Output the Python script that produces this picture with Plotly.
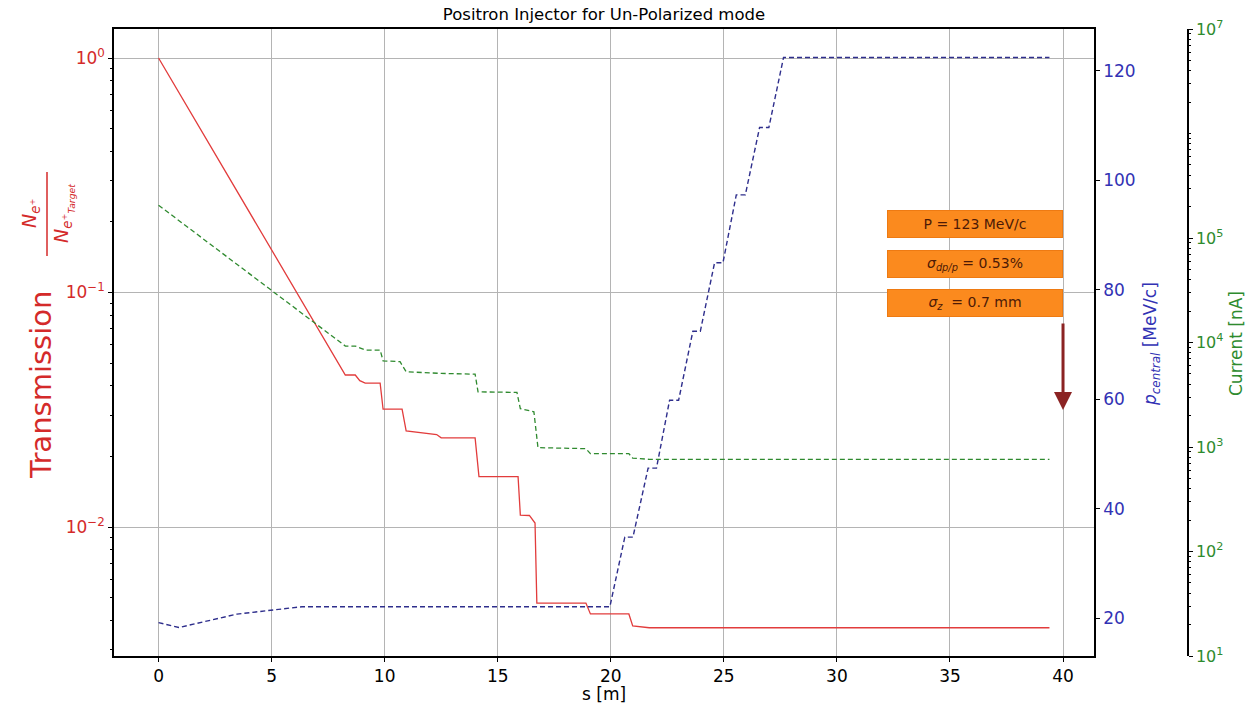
import plotly.graph_objects as go

# ---------------- data ----------------
s_trans = [0, 8.26, 8.7, 8.9, 9.14, 9.8, 9.93, 10.77, 10.95, 11.7, 12.3, 12.5, 14.0, 14.17,
           15.9, 16.0, 16.4, 16.65, 16.73, 18.9, 19.1, 20.8, 20.97, 21.7, 39.4]
transmission = [1.0, 0.0445, 0.0445, 0.0421, 0.0411, 0.0411, 0.0318, 0.0318, 0.0257, 0.0252,
                0.0248, 0.0240, 0.0240, 0.0164, 0.0164, 0.01125, 0.0112, 0.0104, 0.00474,
                0.00474, 0.00426, 0.00426, 0.00379, 0.00372, 0.00372]

s_curr = [0, 8.26, 8.7, 9.14, 9.8, 9.93, 10.68, 10.95, 12.5, 14.0, 14.13, 15.85, 16.0, 16.6,
          16.78, 18.9, 19.1, 20.8, 20.97, 21.7, 39.4]
current_nA = [2.06e5, 9.25e3, 9.25e3, 8.47e3, 8.47e3, 6.68e3, 6.55e3, 5.25e3, 5.06e3, 4.98e3,
              3.37e3, 3.33e3, 2.33e3, 2.17e3, 986, 964, 863, 863, 783, 762, 762]

s_p = [0, 0.9, 3.47, 5.1, 6.34, 19.96, 20.62, 20.98, 21.65, 22.02, 22.6, 23.0, 23.63, 23.96,
       24.59, 24.96, 25.55, 25.95, 26.58, 26.99, 27.64, 39.4]
p_central = [19.2, 18.3, 20.75, 21.5, 22.1, 22.1, 34.8, 34.8, 47.4, 47.4, 59.8, 59.8, 72.4, 72.4,
             84.9, 84.9, 97.3, 97.3, 109.6, 109.6, 122.4, 122.4]

x_ticks = [0, 5, 10, 15, 20, 25, 30, 35, 40]
t_ticks = [0.01, 0.1, 1]
t_ticktext = ["10<sup>−2</sup>", "10<sup>−1</sup>", "10<sup>0</sup>"]
p_ticks = [20, 40, 60, 80, 100, 120]
c_ticks = [10, 100, 1e3, 1e4, 1e5, 1e7]
c_ticktext = ["10<sup>1</sup>", "10<sup>2</sup>", "10<sup>3</sup>", "10<sup>4</sup>",
              "10<sup>5</sup>", "10<sup>7</sup>"]

title_text = "Positron Injector for Un-Polarized mode"
box_texts = ["P = 123 MeV/c",
             "<i>σ</i><sub><i>dp/p</i></sub> = 0.53%",
             "<i>σ<sub>z</sub></i>  = 0.7 mm"]

# ---------------- styling ----------------
FONT = "DejaVu Sans"
RED = "#d42a2a"
BLUE = "#3232b4"
GREEN = "#2e8b2e"
W, H = 1252, 708
ML, MR, MT, MB = 114, 12, 29, 52
PW = W - ML - MR
PH = H - MT - MB
XDOM = 980 / PW

t_minor = [k * 10.0 ** e for e in (-3, -2, -1, 0) for k in range(2, 10)]
c_minor = [k * 10.0 ** e for e in (1, 2, 3, 4, 5, 6) for k in range(2, 10)] + [1e6]


def px(xp):
    return (xp - ML) / PW


def py(yp):
    return (H - MB - yp) / PH


fig = go.Figure()
fig.add_trace(go.Scatter(x=s_trans, y=transmission, mode="lines",
                         line=dict(color="rgb(226,60,60)", width=1.3),
                         xaxis="x", yaxis="y", showlegend=False))
fig.add_trace(go.Scatter(x=s_p, y=p_central, mode="lines",
                         line=dict(color="#2e2e8c", width=1.4, dash="5px,3px"),
                         xaxis="x", yaxis="y2", showlegend=False))
fig.add_trace(go.Scatter(x=s_curr, y=current_nA, mode="lines",
                         line=dict(color="#2f8a2f", width=1.3, dash="5px,3px"),
                         xaxis="x", yaxis="y3", showlegend=False))

axis_common = dict(showline=True, linecolor="black", linewidth=1.5, ticks="outside",
                   ticklen=4, tickcolor="black", zeroline=False)

fig.update_layout(
    width=W, height=H,
    margin=dict(l=ML, r=MR, t=MT, b=MB),
    paper_bgcolor="white", plot_bgcolor="white",
    font=dict(family=FONT, size=16, color="black"),
    title=dict(text=title_text, x=604 / W, y=1 - 14 / H, xanchor="center", yanchor="middle",
               font=dict(family=FONT, size=16.5, color="black")),
    xaxis=dict(domain=[0, XDOM], range=[-1.97, 41.37], tickvals=x_ticks,
               showgrid=True, gridcolor="#b4b4b4", gridwidth=1, mirror=True,
               tickfont=dict(size=17, color="black"), **axis_common),
    yaxis=dict(type="log", range=[-2.55, 0.1237], tickvals=t_ticks, ticktext=t_ticktext,
               showgrid=True, gridcolor="#b4b4b4", gridwidth=1, mirror=True,
               tickfont=dict(size=17, color=RED),
               minor=dict(tickmode="array", tickvals=t_minor, ticks="outside", ticklen=2,
                          tickcolor="black", showgrid=False),
               **axis_common),
    yaxis2=dict(overlaying="y", side="right", anchor="x", range=[13.1, 127.6],
                tickvals=p_ticks, showgrid=False, tickfont=dict(size=17, color=BLUE),
                **axis_common),
    yaxis3=dict(overlaying="y", side="right", anchor="free", position=px(1188),
                type="log", range=[1, 7], tickvals=c_ticks, ticktext=c_ticktext,
                showgrid=False, tickfont=dict(size=16, color=GREEN),
                minor=dict(tickmode="array", tickvals=c_minor, ticks="outside", ticklen=2,
                           tickcolor="black", showgrid=False),
                **axis_common),
)

ann = []
# axis titles
ann.append(dict(text="s [m]", x=px(604), y=py(694), xref="paper", yref="paper",
                showarrow=False, font=dict(size=17, color="black"),
                xanchor="center", yanchor="middle"))
ann.append(dict(text="Transmission", x=px(41), y=py(385), xref="paper", yref="paper",
                showarrow=False, textangle=-90, font=dict(size=29, color=RED),
                xanchor="center", yanchor="middle"))
ann.append(dict(text="<i>N</i><sub><i>e</i>⁺</sub>", x=px(31), y=py(214), xref="paper",
                yref="paper", showarrow=False, textangle=-90, font=dict(size=19, color=RED),
                xanchor="center", yanchor="middle"))
ann.append(dict(text="<i>N</i><sub><i>e</i>⁺<sub><i>Target</i></sub></sub>", x=px(64), y=py(214),
                xref="paper", yref="paper", showarrow=False, textangle=-90,
                font=dict(size=19, color=RED), xanchor="center", yanchor="middle"))
ann.append(dict(text="<i>p</i><sub><i>central</i></sub> [MeV/c]", x=px(1151), y=py(344),
                xref="paper", yref="paper", showarrow=False, textangle=-90,
                font=dict(size=17, color=BLUE), xanchor="center", yanchor="middle"))
ann.append(dict(text="Current [nA]", x=px(1236), y=py(344), xref="paper", yref="paper",
                showarrow=False, textangle=-90, font=dict(size=17, color=GREEN),
                xanchor="center", yanchor="middle"))
# orange info boxes
for txt, yc in zip(box_texts, [224, 264, 303]):
    ann.append(dict(text=txt, x=36.1, xref="x", y=py(yc), yref="paper", showarrow=False,
                    width=172, height=24, bgcolor="#fb8a1e", bordercolor="#ee7a12",
                    borderwidth=1, borderpad=1, font=dict(size=14, color="#4d1a06"),
                    xanchor="center", yanchor="middle", align="center"))
# arrow
ann.append(dict(text="", x=40, xref="x", y=py(410), yref="paper", showarrow=True,
                ax=0, ay=-88, arrowcolor="#8b2323", arrowwidth=3, arrowhead=2,
                arrowsize=1.2))
fig.update_layout(annotations=ann)

fig.add_shape(type="line", xref="paper", yref="paper", x0=px(47), x1=px(47),
              y0=py(172), y1=py(256), line=dict(color=RED, width=1.5))

fig.write_html("out.html")
